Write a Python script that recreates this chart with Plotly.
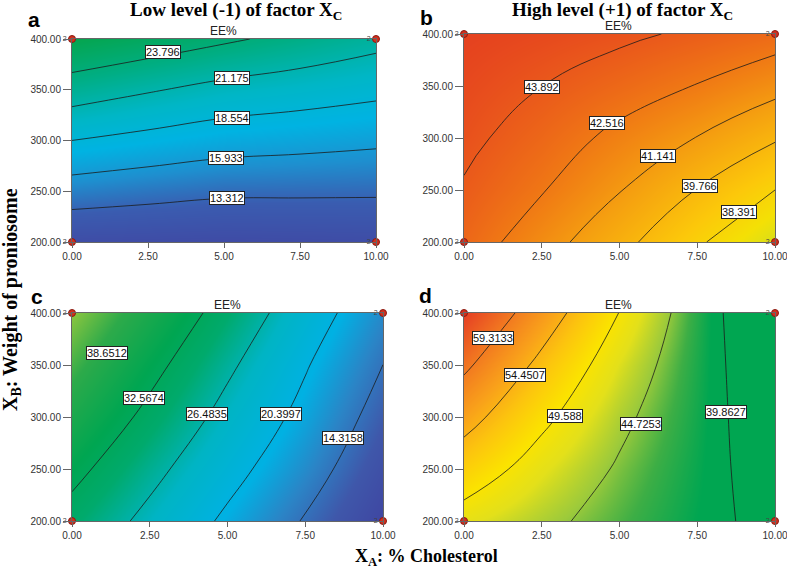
import plotly.graph_objects as go

# ---------------- data ----------------
x_vals = [0, 2.5, 5, 7.5, 10]
y_vals = [200, 250, 300, 350, 400]
x_tick_text = ["0.00", "2.50", "5.00", "7.50", "10.00"]
y_tick_text = ["200.00", "250.00", "300.00", "350.00", "400.00"]

# rows = y (200 -> 400), cols = x (0 -> 10)
z_a = [
    [10.85, 10.75, 10.65, 10.75, 10.86],
    [14.70, 14.20, 13.75, 13.70, 13.65],
    [18.55, 17.80, 17.10, 16.75, 16.38],
    [22.49, 21.40, 20.40, 19.80, 19.17],
    [26.34, 25.30, 24.17, 23.07, 21.96],
]
z_b = [
    [43.27, 41.71, 40.15, 38.58, 37.02],
    [43.77, 42.60, 41.20, 39.72, 38.39],
    [44.20, 43.26, 42.15, 41.10, 39.89],
    [44.50, 43.90, 43.20, 42.46, 41.57],
    [44.80, 44.50, 44.15, 43.67, 43.15],
]
z_c = [
    [30.6, 25.1, 19.46, 13.94, 8.3],
    [34.1, 28.0, 22.2, 16.6, 10.3],
    [37.7, 31.2, 24.8, 18.9, 12.3],
    [41.2, 34.2, 27.4, 20.8, 14.3],
    [44.7, 37.5, 30.3, 23.2, 16.4],
]
z_d = [
    [47.95, 45.6, 43.3, 41.0, 38.7],
    [52.0, 47.8, 44.3, 41.3, 38.0],
    [56.0, 50.5, 45.6, 41.6, 37.25],
    [60.1, 53.4, 47.3, 41.9, 36.35],
    [64.1, 56.8, 49.5, 42.3, 35.0],
]

levels_a = ["13.312", "15.933", "18.554", "21.175", "23.796"]
levels_b = ["38.391", "39.766", "41.141", "42.516", "43.892"]
levels_c = ["14.3158", "20.3997", "26.4835", "32.5674", "38.6512"]
levels_d = ["39.8627", "44.7253", "49.588", "54.4507", "59.3133"]

# contour label anchor points (data coords)
lab_a_x = [5.09, 5.07, 5.25, 5.25, 3.0]
lab_a_y = [243.7, 282.5, 321.9, 361.9, 387.5]
lab_b_x = [8.85, 7.59, 6.25, 4.59, 2.50]
lab_b_y = [229.2, 254.2, 282.7, 314.1, 349.3]
lab_c_x = [8.72, 6.71, 4.33, 2.32, 1.11]
lab_c_y = [279.5, 302.6, 302.6, 318.0, 362.0]
lab_d_x = [8.42, 5.68, 3.25, 1.96, 0.92]
lab_d_y = [305.0, 293.0, 301.3, 340.4, 375.6]

design_x = [0, 0, 10, 10]
design_y = [200, 400, 200, 400]
design_n = ["2", "2", "2", "2"]

# ---------------- styling ----------------
W, H = 787, 568


def fx(px):
    return px / W


def fy(py):
    return 1 - py / H


scale_a = [[0.0, "#3F4BA5"], [0.15, "#3A5CB0"], [0.3, "#1E8FCF"], [0.45, "#00B3E2"],
           [0.6, "#00B6C6"], [0.8, "#00AE84"], [1.0, "#05A54E"]]
scale_b = [[0.0, "#D8DF1A"], [0.1, "#F4E005"], [0.25, "#FCC80A"], [0.5, "#F5A010"],
           [0.7, "#F07A14"], [0.88, "#EA591B"], [1.0, "#E5411F"]]
scale_c = [[0.0, "#3F46A2"], [0.10, "#3F57AA"], [0.21, "#2B84C6"], [0.32, "#00B1E3"],
           [0.46, "#00B4C4"], [0.60, "#00AA6C"], [0.71, "#00A651"], [0.87, "#2DAA4A"],
           [1.0, "#8CC63F"]]
scale_d = [[0.0, "#00A651"], [0.206, "#00A651"], [0.275, "#3DAE45"], [0.344, "#9CCA3B"],
           [0.43, "#E3E01A"], [0.515, "#FBE300"], [0.62, "#FCC40E"], [0.72, "#F9A11A"],
           [0.84, "#F27A20"], [1.0, "#E53E24"]]

# pixel boxes of the four plot areas: (left, right, top, bottom)
boxes = {
    "a": (72, 376, 39, 242),
    "b": (464, 775, 34, 242),
    "c": (72, 383, 313, 521),
    "d": (464, 775, 313, 521),
}

panels = [
    ("a", z_a, levels_a, lab_a_x, lab_a_y, scale_a),
    ("b", z_b, levels_b, lab_b_x, lab_b_y, scale_b),
    ("c", z_c, levels_c, lab_c_x, lab_c_y, scale_c),
    ("d", z_d, levels_d, lab_d_x, lab_d_y, scale_d),
]

fig = go.Figure()
annotations = []
layout = dict(
    width=W, height=H, margin=dict(l=0, r=0, t=0, b=0, autoexpand=False),
    paper_bgcolor="white", plot_bgcolor="white", showlegend=False,
    font=dict(family="Liberation Sans, Arial, sans-serif", color="#333"),
)

tick_font = dict(family="Liberation Sans, Arial, sans-serif", size=10, color="#333")

for i, (name, z, levels, lx, ly, cs) in enumerate(panels):
    n = "" if i == 0 else str(i + 1)
    xa, ya = "x" + n, "y" + n
    L, R, T, B = boxes[name]
    lv = [float(v) for v in levels]
    zflat = [v for row in z for v in row]
    fig.add_trace(go.Contour(
        x=x_vals, y=y_vals, z=z, xaxis=xa, yaxis=ya,
        colorscale=cs, zmin=min(zflat), zmax=max(zflat), showscale=False,
        autocontour=False,
        contours=dict(start=lv[0], end=lv[-1] + 1e-6, size=lv[1] - lv[0],
                      coloring="heatmap", showlines=True),
        line=dict(color="#1c1c1c", width=0.8, smoothing=1.3),
        hoverinfo="skip",
    ))
    fig.add_trace(go.Scatter(
        x=design_x, y=design_y, xaxis=xa, yaxis=ya, mode="markers+text",
        text=design_n, textposition="middle left",
        textfont=dict(size=7, color="#444"),
        marker=dict(color="#D2301E", size=7, line=dict(color="#8A1A10", width=1)),
        cliponaxis=False, hoverinfo="skip",
    ))
    layout["xaxis" + n] = dict(
        domain=[fx(L), fx(R)], anchor=ya, range=[0, 10], automargin=False,
        tickvals=x_vals, ticktext=x_tick_text, ticks="outside", ticklen=5,
        ticklabeloverflow="allow",
        tickcolor="#666", tickfont=tick_font, showgrid=False, zeroline=False,
        showline=True, mirror=True, linecolor="#666", linewidth=1,
    )
    layout["yaxis" + n] = dict(
        domain=[fy(B), fy(T)], anchor=xa, range=[200, 400], automargin=False,
        tickvals=y_vals, ticktext=y_tick_text, ticks="outside", ticklen=8,
        ticklabeloverflow="allow",
        tickcolor="#666", tickfont=tick_font, showgrid=False, zeroline=False,
        showline=True, mirror=True, linecolor="#666", linewidth=1,
    )
    for t, px_, py_ in zip(levels, lx, ly):
        annotations.append(dict(
            x=px_, y=py_, xref=xa, yref=ya, text=t, showarrow=False,
            bgcolor="white", bordercolor="#222", borderwidth=1, borderpad=0,
            font=dict(size=11, color="#111", family="Liberation Sans, Arial, sans-serif"),
        ))


def paper_text(text, px, py, size, family, color="#000", angle=0):
    annotations.append(dict(
        x=fx(px), y=fy(py), xref="paper", yref="paper", text=text,
        showarrow=False, textangle=angle, xanchor="center", yanchor="middle",
        font=dict(size=size, family=family, color=color),
    ))


serif = "Liberation Serif, Times New Roman, serif"
sans = "Liberation Sans, Arial, sans-serif"
paper_text("<b>Low level (-1) of factor X<sub>C</sub></b>", 236, 11, 19, serif)
paper_text("<b>High level (+1) of factor X<sub>C</sub></b>", 622, 11, 19, serif)
paper_text("<b>a</b>", 34, 19, 21, sans)
paper_text("<b>b</b>", 426, 18, 21, sans)
paper_text("<b>c</b>", 37, 296, 21, sans)
paper_text("<b>d</b>", 425, 295, 21, sans)
paper_text("EE%", 223, 31, 12, sans, "#222")
paper_text("EE%", 618, 26, 12, sans, "#222")
paper_text("EE%", 227, 305, 12, sans, "#222")
paper_text("EE%", 618, 305, 12, sans, "#222")
paper_text("<b>X<sub>B</sub>: Weight of proniosome</b>", 11, 300, 20, serif, angle=-90)
paper_text("<b>X<sub>A</sub>: % Cholesterol</b>", 426, 557, 18, serif)

layout["annotations"] = annotations
fig.update_layout(**layout)
fig.write_html(
    "out.html",
    config={"displayModeBar": False},
    post_script="document.body.style.margin='0';document.body.style.overflow='hidden';",
)
